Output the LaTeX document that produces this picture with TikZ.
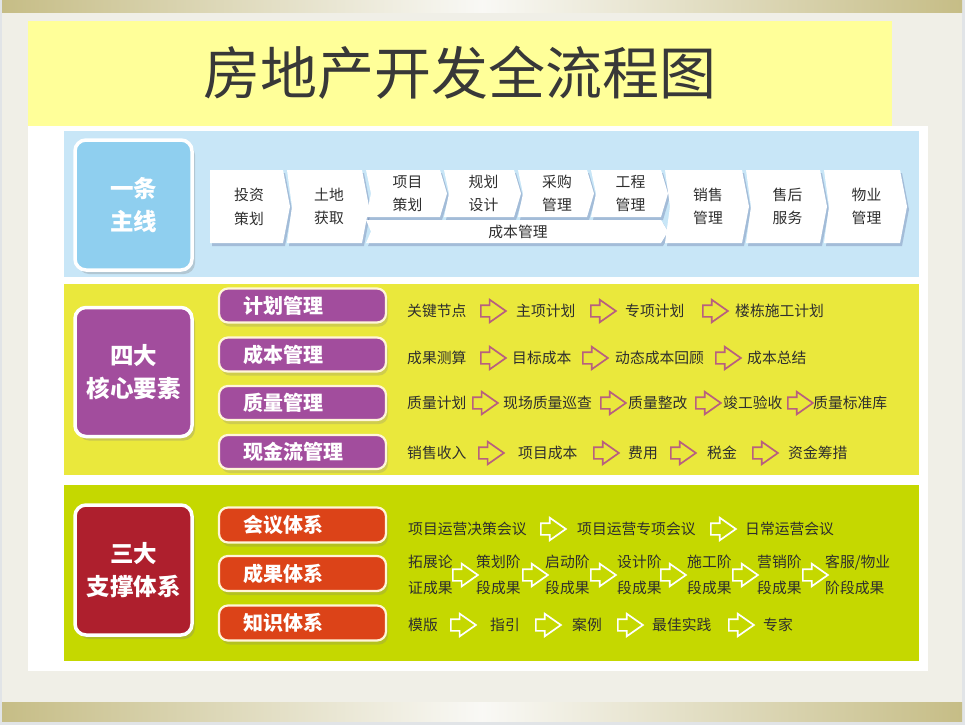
\documentclass[tikz,border=0pt]{standalone}
\usepackage{fontspec}
\setmainfont{Noto Sans CJK SC}
\usetikzlibrary{shapes.arrows, shadows}

\definecolor{paper}{HTML}{F0EFE7}
\definecolor{edge}{HTML}{E1E4E7}
\definecolor{brass}{HTML}{C6BD86}
\definecolor{titlebg}{HTML}{FFFF99}
\definecolor{ink}{HTML}{2E2E2E}
\definecolor{skyband}{HTML}{C8E6F7}
\definecolor{skybox}{HTML}{8FCFEF}
\definecolor{lemonband}{HTML}{EAE83C}
\definecolor{plum}{HTML}{A24D9D}
\definecolor{limeband}{HTML}{C5D800}
\definecolor{wine}{HTML}{AE1F2D}
\definecolor{rust}{HTML}{DC4318}
\definecolor{mauve}{HTML}{B8607F}
\definecolor{cream}{HTML}{FFF6D8}

\tikzset{
	flow chart/.cd,
	group box/.style = {
		rounded corners = 11pt,
		draw = white,
		line width = 3.5pt,
		minimum width = 117pt,
		minimum height = 130pt,
		align = center,
		text = white,
		font = \fontsize{23.5}{33}\selectfont\bfseries,
		drop shadow = {shadow xshift = 3pt, shadow yshift = -4pt, opacity = .3}
	},
	pill/.style = {
		rounded corners = 9pt,
		draw = cream,
		line width = 2.2pt,
		minimum height = 34pt,
		text width = 119pt,
		inner xsep = 24pt,
		align = left,
		text = white,
		font = \fontsize{20}{24}\selectfont\bfseries,
		drop shadow = {shadow xshift = 2pt, shadow yshift = -4pt, opacity = .25}
	},
	item/.style = {
		anchor = west,
		inner sep = 0,
		text = ink,
		align = left,
		font = \fontsize{14.8}{26}\selectfont
	},
	hollow arrow/.style = {
		single arrow,
		anchor = west,
		inner sep = 0,
		text height = 5pt,
		text depth = 5pt,
		minimum height = 25pt,
		single arrow head extend = 5.5pt,
		single arrow tip angle = 70,
		line width = 1.7pt,
		draw = #1
	},
}

\begin{document}
\begin{tikzpicture}[x = 1pt, y = -1pt,
		chevron/.style = {
			fill = white,
			drop shadow = {shadow xshift = 2pt, shadow yshift = -3pt, opacity = .18, fill = blue!30!black}
		},
		stage text/.style = {
			align = center,
			inner sep = 0,
			text = ink,
			font = \fontsize{14.8}{23.5}\selectfont
		}]
		\useasboundingbox (0, 0) rectangle (965, 725);
		% slide background
		\fill[paper] (0, 0) rectangle (965, 725);
		\fill[edge] (0, 0) rectangle (2, 725);
		\fill[edge] (962, 0) rectangle (965, 725);
		\fill[edge] (0, 721) rectangle (965, 725);
		\shade[left color = brass, right color = brass, middle color = paper!40!white] (2, 1) rectangle (962, 13);
		\shade[left color = brass, right color = brass, middle color = paper!40!white] (2, 702) rectangle (962, 721);

		\fill[titlebg] (28, 21) rectangle (892, 127);
		\node[text = ink!95, font = \fontsize{57}{60}\selectfont] (title) at (460, 73) {房地产开发全流程图};

		\fill[white] (28, 126) rectangle (928, 671);
		\fill[skyband] (64, 131) rectangle (919, 277);
		\fill[lemonband] (64, 284) rectangle (919, 475);
		\fill[limeband] (64, 485) rectangle (919, 661);

		% main line
		\node[flow chart/group box, fill = skybox, minimum height = 130pt] (main line) at (133.5, 205) {一条\\主线};
		\path[chevron] (210, 170) -- (283, 170) -- (290, 206.5) -- (283, 243) -- (210, 243) -- cycle;
		\node[stage text] (invest) at (249, 207) {投资\\策划};
		\foreach \name/\xa/\xb/\ya/\yb/\txt in {
				land/287/369/170/243/{土地\\获取},
				project/366/447/170/217/{项目\\策划},
				design/444/521/170/217/{规划\\设计},
				purchase/518/594/170/217/{采购\\管理},
				works/591/668/170/217/{工程\\管理},
				cost/366/668/220/243/{成本管理},
				sales/665/749/170/243/{销售\\管理},
				service/746/827/170/243/{售后\\服务},
				property/824/907/170/243/{物业\\管理}} {
			\path[chevron] (\xa, \ya) -- (\xb - 7, \ya) -- (\xb, {(\ya + \yb) / 2}) -- (\xb - 7, \yb)
				-- (\xa, \yb) -- (\xa + 5, {(\ya + \yb) / 2}) -- cycle;
			\node[stage text] (\name) at ({(\xa + \xb) / 2 + 1}, {(\ya + \yb) / 2}) {\txt};
		}

		% four core elements
		\node[flow chart/group box, fill = plum, minimum height = 129pt] (core) at (133.5, 372) {四大\\核心要素};
		\foreach \name/\y/\txt in {plan/305.5/计划管理, budget/354.5/成本管理, quality/403/质量管理, cash/452/现金流管理}
			\node[flow chart/pill, fill = plum] (\name) at (302.5, \y) {\txt};

		\foreach \name/\x/\txt in {key/407/关键节点, master/516/主项计划, special/625/专项计划, building/735/楼栋施工计划}
			\node[flow chart/item] (plan \name) at (\x, 311) {\txt};
		\foreach \n/\x in {1/480, 2/590, 3/702}
			\node[flow chart/hollow arrow = mauve] (plan arrow \n) at (\x, 311) {};

		\foreach \name/\x/\txt in {estimate/407/成果测算, target/512/目标成本, dynamic/615/动态成本回顾, summary/747/成本总结}
			\node[flow chart/item] (budget \name) at (\x, 358) {\txt};
		\foreach \n/\x in {1/480, 2/582, 3/715}
			\node[flow chart/hollow arrow = mauve] (budget arrow \n) at (\x, 358) {};

		\foreach \name/\x/\txt in {plan/407/质量计划, patrol/503/现场质量巡查, rectify/628/质量整改, accept/723/竣工验收, library/813/质量标准库}
			\node[flow chart/item] (quality \name) at (\x, 403) {\txt};
		\foreach \n/\x in {1/472, 2/600, 3/695, 4/787}
			\node[flow chart/hollow arrow = mauve] (quality arrow \n) at (\x, 403) {};

		\foreach \name/\x/\txt in {income/407/销售收入, cost/518/项目成本, fees/628/费用, tax/707/税金, funding/788/资金筹措}
			\node[flow chart/item] (cash \name) at (\x, 453) {\txt};
		\foreach \n/\x in {1/478, 2/593, 3/670, 4/752}
			\node[flow chart/hollow arrow = mauve] (cash arrow \n) at (\x, 453) {};

		% three support systems
		\node[flow chart/group box, fill = wine, minimum height = 130pt] (support) at (133.5, 570) {三大\\支撑体系};
		\foreach \name/\y/\txt in {meeting/525/会议体系, result/573.5/成果体系, knowledge/623/知识体系}
			\node[flow chart/pill, fill = rust, minimum height = 35pt] (\name) at (302.5, \y) {\txt};

		\foreach \name/\x/\txt in {decision/408/项目运营决策会议, topic/577/项目运营专项会议, daily/745/日常运营会议}
			\node[flow chart/item] (meeting \name) at (\x, 529) {\txt};
		\foreach \n/\x in {1/540, 2/710}
			\node[flow chart/hollow arrow = white] (meeting arrow \n) at (\x, 529) {};

		\foreach \name/\x/\txt in {expand/408/{拓展论\\证成果}, planning/476/{策划阶\\段成果}, start/545/{启动阶\\段成果},
				design/617/{设计阶\\段成果}, build/687/{施工阶\\段成果}, market/757/{营销阶\\段成果}, client/825/{客服/物业\\阶段成果}}
			\node[flow chart/item] (result \name) at (\x, 575) {\txt};
		\foreach \n/\x in {1/452, 2/522, 3/590, 4/660, 5/732, 6/802}
			\node[flow chart/hollow arrow = white] (result arrow \n) at (\x, 575) {};

		\foreach \name/\x/\txt in {template/408/模版, guide/490/指引, case/572/案例, practice/652/最佳实践, expert/763/专家}
			\node[flow chart/item] (knowledge \name) at (\x, 625) {\txt};
		\foreach \n/\x in {1/450, 2/535, 3/617, 4/728}
			\node[flow chart/hollow arrow = white] (knowledge arrow \n) at (\x, 625) {};
	\end{tikzpicture}
\end{document}
